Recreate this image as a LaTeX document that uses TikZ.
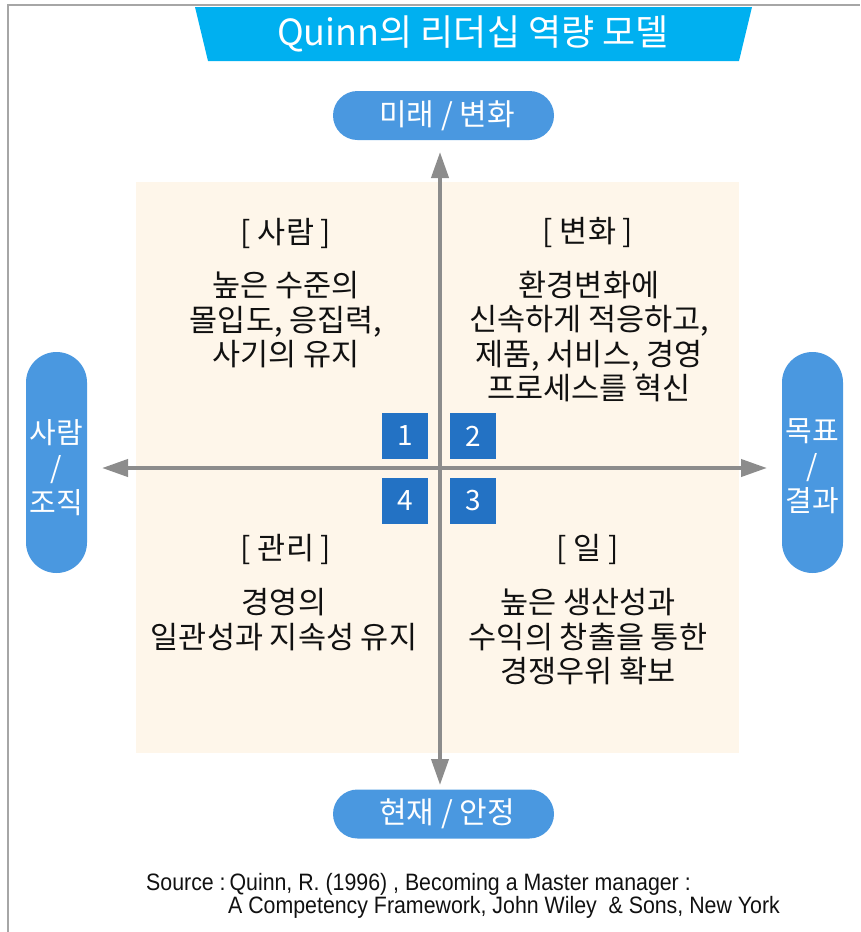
\documentclass[tikz,border=0pt]{standalone}
\usepackage{fontspec}
\setmainfont{Noto Sans CJK KR}
\newfontfamily\srcfont[FakeStretch=0.9]{Liberation Sans}
\usetikzlibrary{arrows.meta}
\definecolor{titlecyan}{HTML}{00B0F0}
\definecolor{pillblue}{HTML}{4A98E0}
\definecolor{numblue}{HTML}{2372C4}
\definecolor{quadbg}{HTML}{FEF6EA}
\definecolor{axisgray}{HTML}{8C8C8C}
\definecolor{framegray}{HTML}{A6A6A6}
\definecolor{bodytext}{HTML}{111111}
\begin{document}
\begin{tikzpicture}[x=1pt,y=-1pt,
  hpill/.style={fill=pillblue,rounded corners=24.5pt,minimum width=221pt,minimum height=49pt,inner sep=0pt},
  vpill/.style={fill=pillblue,rounded corners=30.5pt,minimum width=61pt,minimum height=221pt,inner sep=0pt},
  pilltext/.style={text=white,font=\fontsize{30}{35}\selectfont,align=center,inner sep=0pt},
  vpilltext/.style={text=white,font=\fontsize{29}{35}\selectfont,align=center,inner sep=0pt},
  numbox/.style={fill=numblue,text=white,minimum width=46pt,minimum height=46pt,inner sep=0pt,font=\fontsize{28}{30}\selectfont},
  quadtext/.style={font=\fontsize{30.5}{34.5}\selectfont,text=bodytext,align=center,inner sep=0pt},
  axisline/.style={line width=4pt,draw=axisgray,{Triangle[length=26pt,width=17pt]}-{Triangle[length=26pt,width=17pt]}},
  srctext/.style={anchor=west,inner sep=0pt,font=\srcfont\fontsize{23.7}{26}\selectfont,text=bodytext}]
\useasboundingbox (0,0) rectangle (860,932);
% frame
\draw[framegray,line width=2pt] (8,932) -- (8,5) -- (860,5);
% title
\fill[titlecyan] (195,7) -- (752,7) -- (739,61) -- (208,61) -- cycle;
\node[text=white,font=\fontsize{36}{40}\selectfont,inner sep=0pt] (title) at (473,34) {Quinn의 리더십 역량 모델};
% background
\node[fill=quadbg,minimum width=603pt,minimum height=571pt,inner sep=0pt] (bg) at (437.5,467.5) {};
% axes
\coordinate (vt) at (440,152);
\coordinate (vb) at (440,785);
\coordinate (hl) at (102,468);
\coordinate (hr) at (767,468);
\draw[axisline] (vt) -- (vb);
\draw[axisline] (hl) -- (hr);
% pills
\node[hpill] (ptop) at (443.5,115.5) {};
\node[pilltext] (ttop) at (447,116) {미래 / 변화};
\node[hpill] (pbot) at (443.5,814) {};
\node[pilltext] (tbot) at (447,814) {현재 / 안정};
\node[vpill] (pleft) at (56.5,462.5) {};
\node[vpilltext] (tleft) at (56.5,467.5) {사람\\/\\조직};
\node[vpill] (pright) at (812.5,462.5) {};
\node[vpilltext] (tright) at (812.5,466) {목표\\/\\결과};
% numbers
\node[numbox] (n1) at (405,436) {1};
\node[numbox] (n2) at (473,436) {2};
\node[numbox] (n4) at (405,501) {4};
\node[numbox] (n3) at (473,501) {3};
% quadrant texts
\node[quadtext] (h1) at (286,233) {[ 사람 ]};
\node[quadtext] (b1) at (286,320) {높은 수준의\\몰입도, 응집력,\\사기의 유지};
\node[quadtext] (h2) at (588,232) {[ 변화 ]};
\node[quadtext] (b2) at (589,336.5) {환경변화에\\신속하게 적응하고,\\제품, 서비스, 경영\\프로세스를 혁신};
\node[quadtext] (h4) at (286,549) {[ 관리 ]};
\node[quadtext] (b4) at (284,619.5) {경영의\\일관성과 지속성 유지};
\node[quadtext] (h3) at (588,549) {[ 일 ]};
\node[quadtext] (b3) at (588,637) {높은 생산성과\\수익의 창출을 통한\\경쟁우위 확보};
% source
\node[srctext] (src1) at (146,884) {Source :\,Quinn, R. (1996) , Becoming a Master manager :};
\node[srctext] (src2) at (228,907) {A Competency Framework, John Wiley\ \ \& Sons, New York};
\end{tikzpicture}
\end{document}
